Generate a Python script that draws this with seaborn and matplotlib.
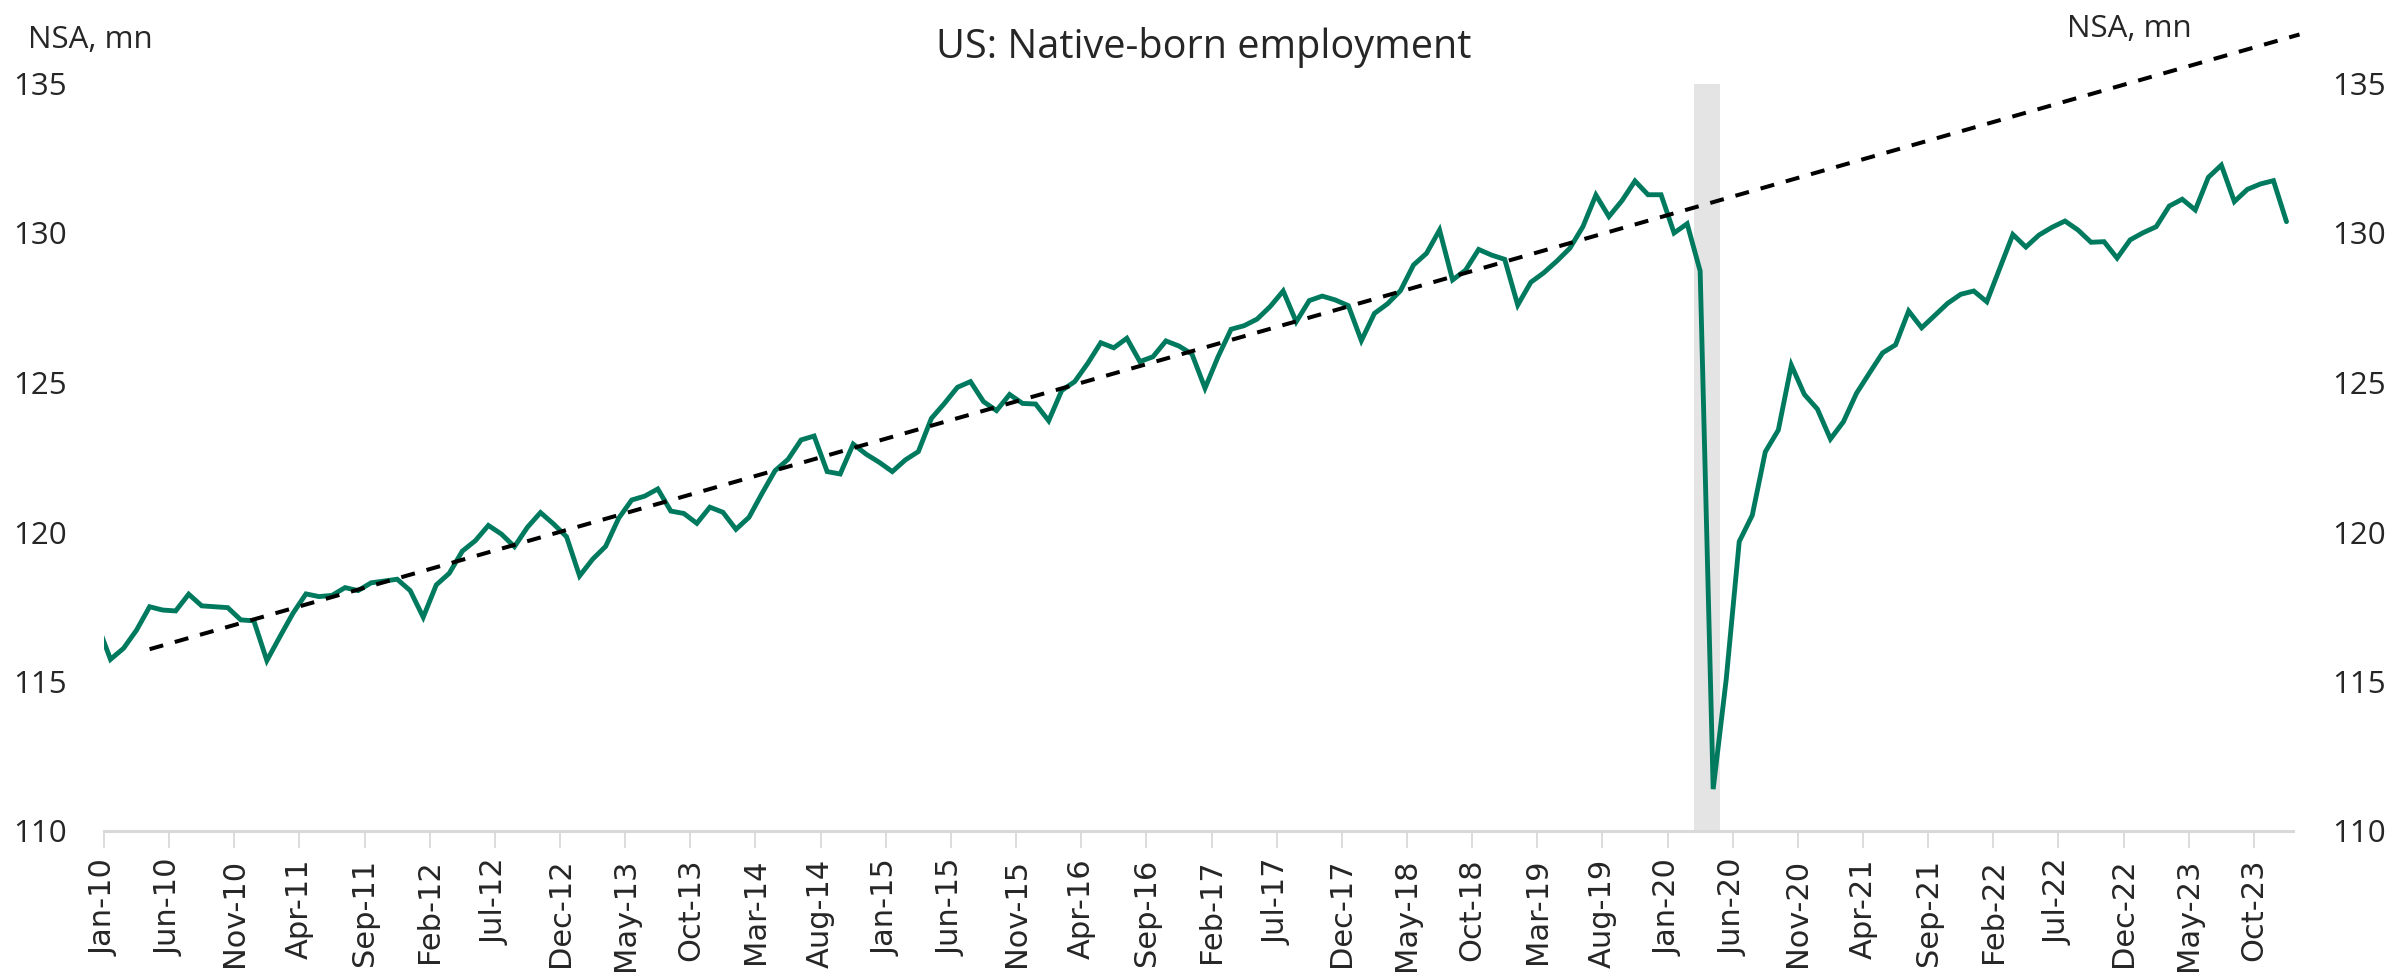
import numpy as np
import pandas as pd
import matplotlib
matplotlib.use("Agg")
import matplotlib.pyplot as plt
import seaborn as sns

# ---------------- data ----------------
title = "US: Native-born employment"
unit_label = "NSA, mn"
start_month = "2009-12"          # first observation (Dec-09 is clipped by the axis)
axis_start = "2010-01"
axis_end = "2024-01"
employment = [
    116.90,
    115.74, 116.11, 116.72, 117.50, 117.39, 117.36, 117.92, 117.53, 117.50, 117.47, 117.06, 117.03,
    115.70, 116.50, 117.28, 117.93, 117.84, 117.88, 118.14, 118.04, 118.30, 118.36, 118.42, 118.04,
    117.15, 118.23, 118.62, 119.36, 119.71, 120.22, 119.93, 119.51, 120.16, 120.65, 120.27, 119.84,
    118.53, 119.09, 119.52, 120.46, 121.07, 121.20, 121.44, 120.70, 120.62, 120.29, 120.83, 120.66,
    120.09, 120.49, 121.29, 122.05, 122.43, 123.08, 123.21, 122.02, 121.94, 122.94, 122.60, 122.33,
    122.02, 122.41, 122.69, 123.80, 124.30, 124.84, 125.03, 124.36, 124.06, 124.60, 124.30, 124.28,
    123.72, 124.73, 125.03, 125.64, 126.33, 126.16, 126.48, 125.70, 125.86, 126.39, 126.22, 125.95,
    124.81, 125.86, 126.78, 126.90, 127.12, 127.54, 128.06, 127.03, 127.74, 127.89, 127.76, 127.57,
    126.40, 127.31, 127.63, 128.07, 128.93, 129.32, 130.10, 128.43, 128.76, 129.45, 129.26, 129.12,
    127.59, 128.35, 128.67, 129.06, 129.49, 130.21, 131.27, 130.55, 131.08, 131.74, 131.28, 131.28,
    130.00, 130.31, 128.73, 111.40, 115.07, 119.68, 120.56, 122.68, 123.41, 125.58, 124.60, 124.11,
    123.11, 123.69, 124.64, 125.32, 125.99, 126.26, 127.39, 126.83, 127.24, 127.65, 127.95, 128.06,
    127.70, 128.83, 129.95, 129.53, 129.93, 130.19, 130.40, 130.10, 129.69, 129.71, 129.16, 129.77,
    130.01, 130.21, 130.90, 131.13, 130.77, 131.86, 132.27, 131.05, 131.46, 131.64, 131.75, 130.38,
]
trend_months = ["2010-04", "2024-01"]
trend_values = [116.08, 136.64]
recession_months = ["2020-03", "2020-04"]
y_ticks = [110, 115, 120, 125, 130, 135]
tick_every = 5  # months between x labels

# ---------------- helpers ----------------
def month_pos(m):
    """month index relative to axis start (Jan-10 = 0)."""
    p = pd.Period(m, freq="M") - pd.Period(axis_start, freq="M")
    return p.n

months = pd.period_range(start_month, periods=len(employment), freq="M")
df = pd.DataFrame({
    "pos": [month_pos(str(m)) + 0.5 for m in months],   # mid-month positions
    "value": employment,
})
x_max = month_pos(axis_end)
tick_pos = list(range(0, x_max, tick_every))
tick_lab = [(pd.Period(axis_start, freq="M") + t).strftime("%b-%y") for t in tick_pos]

# ---------------- plot ----------------
sns.set_theme(style="white")
plt.rcParams["font.family"] = ["Open Sans", "DejaVu Sans"]

W, H = 2389, 973
fig = plt.figure(figsize=(W / 100, H / 100), dpi=100)
left, right, bottom, top = 104, 2293, 831, 83.5
ax = fig.add_axes([left / W, 1 - bottom / H, (right - left) / W, (bottom - top) / H])

rec0 = month_pos(recession_months[0])
rec1 = month_pos(recession_months[-1]) + 1
ax.axvspan(rec0, rec1, color="#e4e4e4", lw=0, zorder=0)

sns.lineplot(data=df, x="pos", y="value", ax=ax, color="#007A5E", lw=3.5,
             zorder=3, solid_joinstyle="miter")

tx = [month_pos(m) + 0.5 for m in trend_months]
ax.plot(tx, trend_values, color="black", lw=2.9, dashes=(3.5, 3.0),
        clip_on=False, zorder=4)

ax.set_xlim(0, x_max)
ax.set_ylim(y_ticks[0], y_ticks[-1])
ax.set_xlabel("")
ax.set_ylabel("")
ax.set_xticks(tick_pos)
ax.set_xticklabels(tick_lab, rotation=90, fontfamily="DejaVu Sans", fontsize=22)
ax.set_yticks(y_ticks)
ax.set_yticklabels([str(t) for t in y_ticks], fontsize=22.5)
ax.tick_params(axis="x", length=12, width=1.3, color="#d9d9d9", pad=8, direction="out",
               bottom=True)
ax.tick_params(axis="y", length=0, pad=27)

for s in ["left", "right", "top"]:
    ax.spines[s].set_visible(False)
ax.spines["bottom"].set_color("#d9d9d9")
ax.spines["bottom"].set_linewidth(2.2)

ax2 = ax.twinx()
ax2.set_ylim(ax.get_ylim())
ax2.set_yticks(y_ticks)
ax2.set_yticklabels([str(t) for t in y_ticks], fontsize=22.5)
ax2.tick_params(axis="y", length=0, pad=28)
for s in ["left", "right", "top", "bottom"]:
    ax2.spines[s].set_visible(False)
ax2.grid(False)
ax.grid(False)

fig.text(1204 / W, 1 - 58 / H, title, ha="center", va="baseline", fontsize=28.5)
fig.text(28 / W, 1 - 48 / H, unit_label, ha="left", va="baseline", fontsize=22.5)
fig.text(2067 / W, 1 - 37 / H, unit_label, ha="left", va="baseline", fontsize=22.5)

fig.savefig("out.png", dpi=100, facecolor="white")
